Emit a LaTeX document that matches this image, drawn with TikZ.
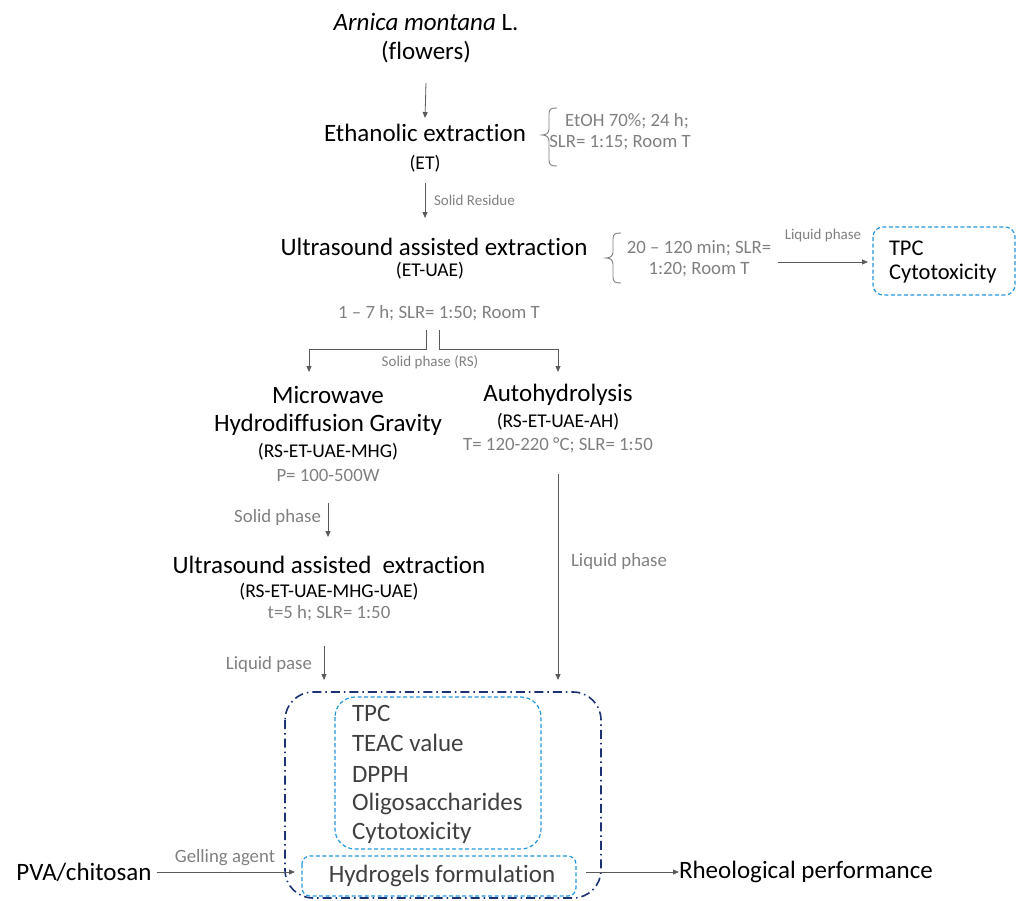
\documentclass[tikz,border=0pt]{standalone}
\usepackage{fontspec}
\setmainfont{Carlito}[Ligatures=NoCommon]
\usetikzlibrary{arrows.meta}
\definecolor{greytxt}{HTML}{808080}
\definecolor{arrcol}{HTML}{5A5A5A}
\definecolor{darktxt}{HTML}{404040}
\definecolor{dashblue}{RGB}{35,150,220}
\definecolor{navy}{RGB}{28,50,115}
\tikzset{
  every node/.style={inner sep=0pt, outer sep=0pt},
  bigtxt/.style={font=\fontsize{25}{30}\selectfont, text=black},
  boxtxt/.style={font=\fontsize{25}{30}\selectfont, text=darktxt, anchor=west},
  codetxt/.style={font=\fontsize{19.5}{23}\selectfont, text=black},
  condtxt/.style={font=\fontsize{18.8}{22}\selectfont, text=greytxt},
  smalltxt/.style={font=\fontsize{15}{18}\selectfont, text=greytxt},
  arr/.style={draw=arrcol, line width=0.8pt, -{Triangle[length=6pt,width=5pt]}},
  plainline/.style={draw=arrcol, line width=0.8pt},
  bluebox/.style={draw=dashblue, line width=1.2pt, dash pattern=on 4pt off 2.5pt},
  outerbox/.style={draw=navy, line width=1.6pt, dash pattern=on 9pt off 4pt on 1.5pt off 4pt, rounded corners=28pt},
  bracestyle/.style={draw=greytxt, line width=0.9pt}
}
\begin{document}
\begin{tikzpicture}[x=1pt,y=-1pt]
\useasboundingbox (0,0) rectangle (1019,900);

% --- top ---
\node[bigtxt] (arn) at (426,22) {\textit{Arnica montana} L.};
\node[bigtxt] (flw) at (426,52) {(flowers)};
\node[bigtxt] (eth) at (425,133) {Ethanolic extraction};
\node[codetxt] (et) at (425,164) {(ET)};
\node[condtxt] (c1a) at (627,121) {EtOH 70\%; 24 h;};
\node[condtxt] (c1b) at (620,143) {SLR= 1:15; Room T};
\draw[bracestyle] (557,108) .. controls (551,108) and (549,109) .. (549,114) -- (549,129)
  .. controls (549,133) and (546,135) .. (542,135) .. controls (546,135) and (549,137) .. (549,141)
  -- (549,160) .. controls (549,165) and (551,166) .. (557,166);

\draw[arr] (flw.south |- 0,83) -- (eth.north |- 0,118);
\draw[arr] (et.south |- 0,183) -- (et.south |- 0,218);
\node[smalltxt, anchor=west] (solres) at (434,200) {Solid Residue};

% --- UAE ---
\node[bigtxt] (uae) at (434,247) {Ultrasound assisted extraction};
\node[codetxt] (etuae) at (430,271) {(ET-UAE)};
\node[condtxt] (c2a) at (699,248) {20 -- 120 min; SLR=};
\node[condtxt] (c2b) at (699,270) {1:20; Room T};
\draw[bracestyle] (621,233) .. controls (615,233) and (613,234) .. (613,239) -- (613,252)
  .. controls (613,256) and (610,258) .. (606,258) .. controls (610,258) and (613,260) .. (613,264)
  -- (613,277) .. controls (613,282) and (615,283) .. (621,283);
\node[condtxt] (c3) at (439,313) {1 -- 7 h; SLR= 1:50; Room T};

\node[font=\fontsize{22.5}{27}\selectfont, anchor=west] (tpc1) at (889,248) {TPC};
\node[font=\fontsize{22.5}{27}\selectfont, anchor=west] (cyt1) at (889,274) {Cytotoxicity};
\draw[bluebox, rounded corners=10pt] (873,227) rectangle (1015,295);
\coordinate (rbox) at (868,262);
\draw[arr] (778,262) -- (rbox);
\node[smalltxt] (liq1) at (823,235) {Liquid phase};

% --- split ---
\draw[plainline] (426,330) -- (426,349) -- (309,349);
\draw[arr] (309,349) -- (309,372);
\draw[plainline] (439,330) -- (439,349) -- (558,349);
\draw[arr] (558,349) -- (558,372);
\node[smalltxt] (solrs) at (430,362) {Solid phase (RS)};

% --- MHG ---
\node[bigtxt] (mw) at (328,395) {Microwave};
\node[bigtxt] (hdg) at (328,425) {Hydrodiffusion Gravity};
\node[codetxt] (mhg) at (328,452) {(RS-ET-UAE-MHG)};
\node[condtxt] (pw) at (328,475) {P= 100-500W};

% --- AH ---
\node[bigtxt] (ah) at (558,395) {Autohydrolysis};
\node[codetxt] (ahc) at (558,422) {(RS-ET-UAE-AH)};
\node[condtxt] (ahp) at (558,445) {T= 120-220 \textdegree C; SLR= 1:50};

\draw[arr] (328,503) -- (328,537);
\node[condtxt, anchor=east] (solph) at (321,517) {Solid phase};

% --- second UAE ---
\node[bigtxt] (uae2) at (329,565) {Ultrasound assisted\ \ extraction};
\node[codetxt] (uae2c) at (329,592) {(RS-ET-UAE-MHG-UAE)};
\node[condtxt] (uae2p) at (329,613) {t=5 h; SLR= 1:50};

\draw[arr] (324,646) -- (324,680);
\node[condtxt, anchor=east] (liqp) at (312,664) {Liquid pase};

\draw[arr] (558,474) -- (558,680);
\node[condtxt] (liq2) at (619,561) {Liquid phase};

% --- bottom boxes ---
\draw[outerbox] (285,692) rectangle (601,898);
\draw[bluebox, rounded corners=20pt] (335,697) rectangle (541,849);
\node[boxtxt] (b1) at (352,713) {TPC};
\node[boxtxt] (b2) at (352,743) {TEAC value};
\node[boxtxt] (b3) at (352,774) {DPPH};
\node[boxtxt] (b4) at (352,804) {Oligosaccharides};
\node[boxtxt] (b5) at (352,833) {Cytotoxicity};

\draw[bluebox, rounded corners=8pt] (302,856) rectangle (576,896);
\node[font=\fontsize{25}{30}\selectfont, text=darktxt] (hyd) at (442,876) {Hydrogels formulation};

\node[bigtxt] (pva) at (84,872) {PVA/chitosan};
\draw[arr] (pva.east) ++(5,0) -- (295,872);
\node[condtxt] (gel) at (225,858) {Gelling agent};

\node[bigtxt, anchor=west] (rheo) at (679,872) {Rheological performance};
\draw[arr] (586,872) -- (rheo.west);
\end{tikzpicture}
\end{document}
